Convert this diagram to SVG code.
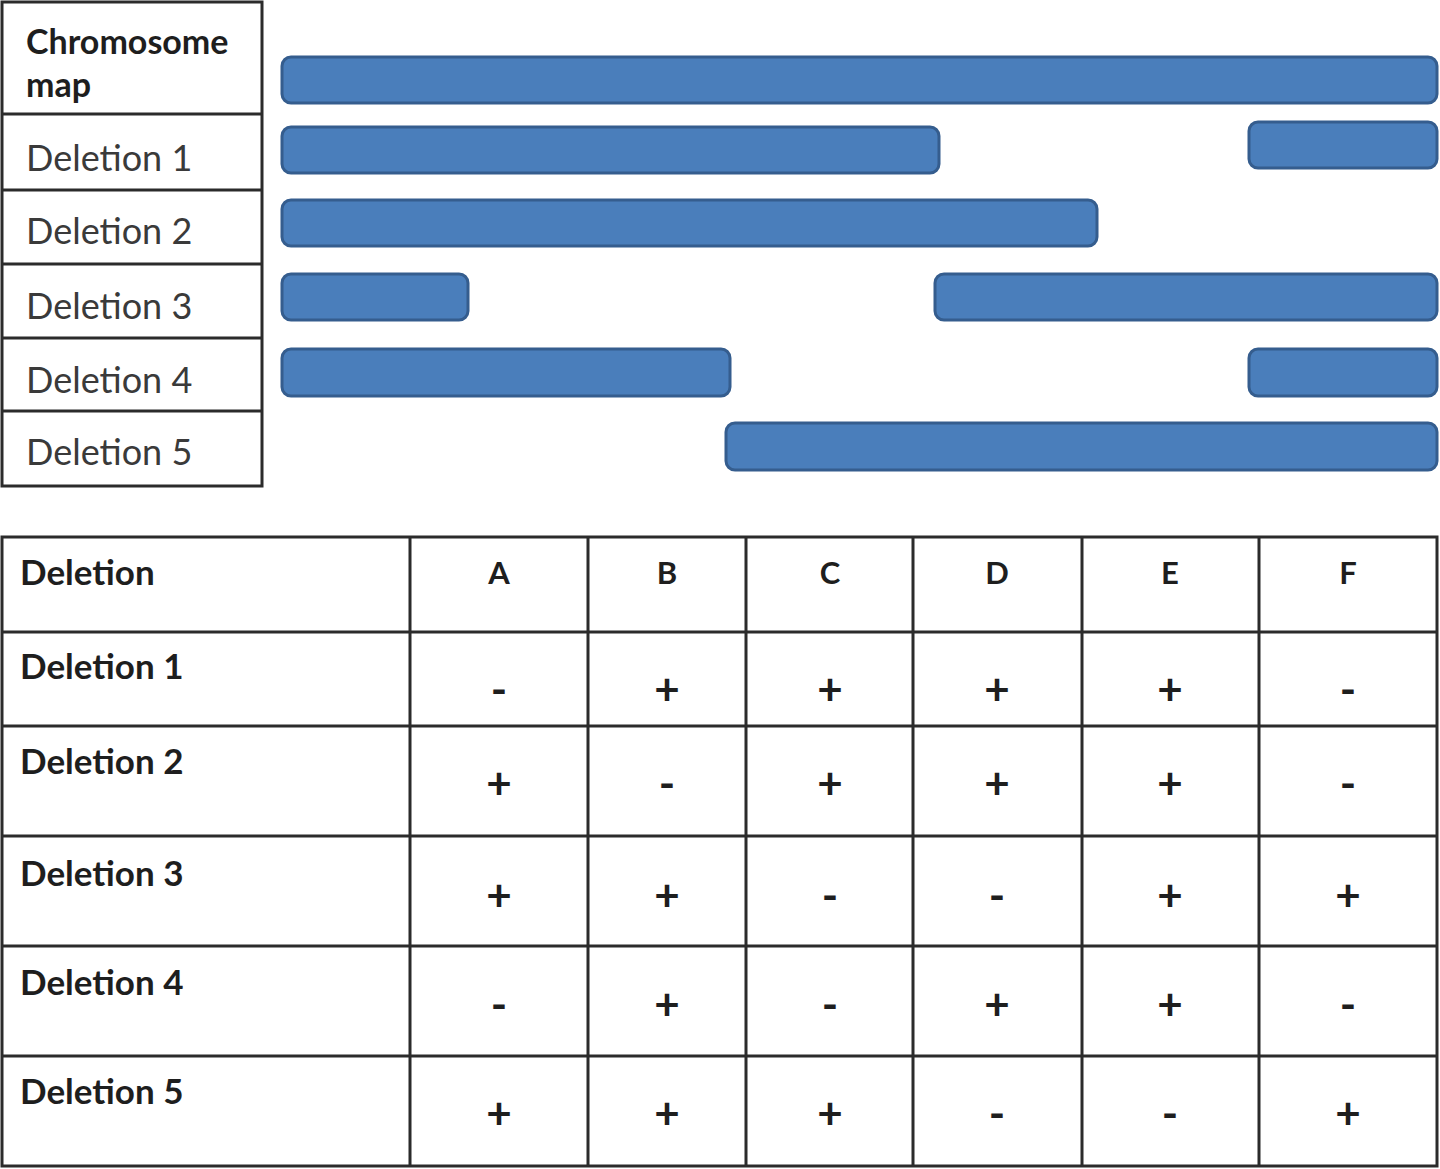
<svg xmlns="http://www.w3.org/2000/svg" width="1440" height="1169" viewBox="0 0 1440 1169">
<style>
.grid{stroke:#2b2b2b;stroke-width:3;fill:none}
.bar{fill:#4a7ebb;stroke:#355d8e;stroke-width:3}
.lbl{font-family:Lato,"Liberation Sans",sans-serif;font-size:36px;fill:#3a3a3a}
.lblb{font-family:Lato,"Liberation Sans",sans-serif;font-size:34px;font-weight:bold;fill:#1e1e1e}
.th{font-family:Lato,"Liberation Sans",sans-serif;font-size:35px;font-weight:bold;fill:#1e1e1e}
.sg{font-family:Lato,"Liberation Sans",sans-serif;font-size:44px;font-weight:bold;fill:#1e1e1e;text-anchor:middle}
.ch{font-family:Lato,"Liberation Sans",sans-serif;font-size:31px;font-weight:bold;fill:#1e1e1e;text-anchor:middle}
</style>
<rect width="1440" height="1169" fill="#ffffff"/>

<g id="label-table">
  <rect class="grid" x="2" y="2" width="260" height="484"/>
  <line class="grid" x1="2" y1="114" x2="262" y2="114"/>
  <line class="grid" x1="2" y1="190" x2="262" y2="190"/>
  <line class="grid" x1="2" y1="264" x2="262" y2="264"/>
  <line class="grid" x1="2" y1="338" x2="262" y2="338"/>
  <line class="grid" x1="2" y1="411" x2="262" y2="411"/>
  <text class="lblb" x="26" y="54">Chromosome</text>
  <text class="lblb" x="26" y="97">map</text>
  <text class="lbl" x="26" y="171">Deletion 1</text>
  <text class="lbl" x="26" y="244">Deletion 2</text>
  <text class="lbl" x="26" y="319">Deletion 3</text>
  <text class="lbl" x="26" y="393">Deletion 4</text>
  <text class="lbl" x="26" y="465">Deletion 5</text>
</g>

<g id="bars">
  <g id="bar-chromosome"><rect class="bar" x="282" y="57" width="1155" height="46" rx="9"/></g>
  <g id="bar-deletion1">
    <rect class="bar" x="282" y="127" width="657" height="46" rx="9"/>
    <rect class="bar" x="1249" y="122" width="188" height="46" rx="9"/>
  </g>
  <g id="bar-deletion2"><rect class="bar" x="282" y="200" width="815" height="46" rx="9"/></g>
  <g id="bar-deletion3">
    <rect class="bar" x="282" y="274" width="186" height="46" rx="9"/>
    <rect class="bar" x="935" y="274" width="502" height="46" rx="9"/>
  </g>
  <g id="bar-deletion4">
    <rect class="bar" x="282" y="349" width="448" height="47" rx="9"/>
    <rect class="bar" x="1249" y="349" width="188" height="47" rx="9"/>
  </g>
  <g id="bar-deletion5"><rect class="bar" x="726" y="423" width="711" height="47" rx="9"/></g>
</g>

<g id="result-table">
  <rect class="grid" x="2" y="537" width="1435" height="629"/>
  <line class="grid" x1="2" y1="632" x2="1437" y2="632"/>
  <line class="grid" x1="2" y1="726" x2="1437" y2="726"/>
  <line class="grid" x1="2" y1="836" x2="1437" y2="836"/>
  <line class="grid" x1="2" y1="946" x2="1437" y2="946"/>
  <line class="grid" x1="2" y1="1056" x2="1437" y2="1056"/>
  <line class="grid" x1="410" y1="537" x2="410" y2="1166"/>
  <line class="grid" x1="588" y1="537" x2="588" y2="1166"/>
  <line class="grid" x1="746" y1="537" x2="746" y2="1166"/>
  <line class="grid" x1="913" y1="537" x2="913" y2="1166"/>
  <line class="grid" x1="1082" y1="537" x2="1082" y2="1166"/>
  <line class="grid" x1="1259" y1="537" x2="1259" y2="1166"/>

  <text class="th" x="20" y="585">Deletion</text>
  <text class="ch" x="499" y="584">A</text>
  <text class="ch" x="667" y="584">B</text>
  <text class="ch" x="830" y="584">C</text>
  <text class="ch" x="997" y="584">D</text>
  <text class="ch" x="1170" y="584">E</text>
  <text class="ch" x="1348" y="584">F</text>

  <text class="th" x="20" y="679">Deletion 1</text>
  <text class="th" x="20" y="774">Deletion 2</text>
  <text class="th" x="20" y="886">Deletion 3</text>
  <text class="th" x="20" y="995">Deletion 4</text>
  <text class="th" x="20" y="1104">Deletion 5</text>

  <g id="row1">
    <text class="sg" x="499" y="705">-</text>
    <text class="sg" x="667" y="705">+</text>
    <text class="sg" x="830" y="705">+</text>
    <text class="sg" x="997" y="705">+</text>
    <text class="sg" x="1170" y="705">+</text>
    <text class="sg" x="1348" y="705">-</text>
  </g>
  <g id="row2">
    <text class="sg" x="499" y="799">+</text>
    <text class="sg" x="667" y="799">-</text>
    <text class="sg" x="830" y="799">+</text>
    <text class="sg" x="997" y="799">+</text>
    <text class="sg" x="1170" y="799">+</text>
    <text class="sg" x="1348" y="799">-</text>
  </g>
  <g id="row3">
    <text class="sg" x="499" y="911">+</text>
    <text class="sg" x="667" y="911">+</text>
    <text class="sg" x="830" y="911">-</text>
    <text class="sg" x="997" y="911">-</text>
    <text class="sg" x="1170" y="911">+</text>
    <text class="sg" x="1348" y="911">+</text>
  </g>
  <g id="row4">
    <text class="sg" x="499" y="1020">-</text>
    <text class="sg" x="667" y="1020">+</text>
    <text class="sg" x="830" y="1020">-</text>
    <text class="sg" x="997" y="1020">+</text>
    <text class="sg" x="1170" y="1020">+</text>
    <text class="sg" x="1348" y="1020">-</text>
  </g>
  <g id="row5">
    <text class="sg" x="499" y="1129">+</text>
    <text class="sg" x="667" y="1129">+</text>
    <text class="sg" x="830" y="1129">+</text>
    <text class="sg" x="997" y="1129">-</text>
    <text class="sg" x="1170" y="1129">-</text>
    <text class="sg" x="1348" y="1129">+</text>
  </g>
</g>
</svg>
